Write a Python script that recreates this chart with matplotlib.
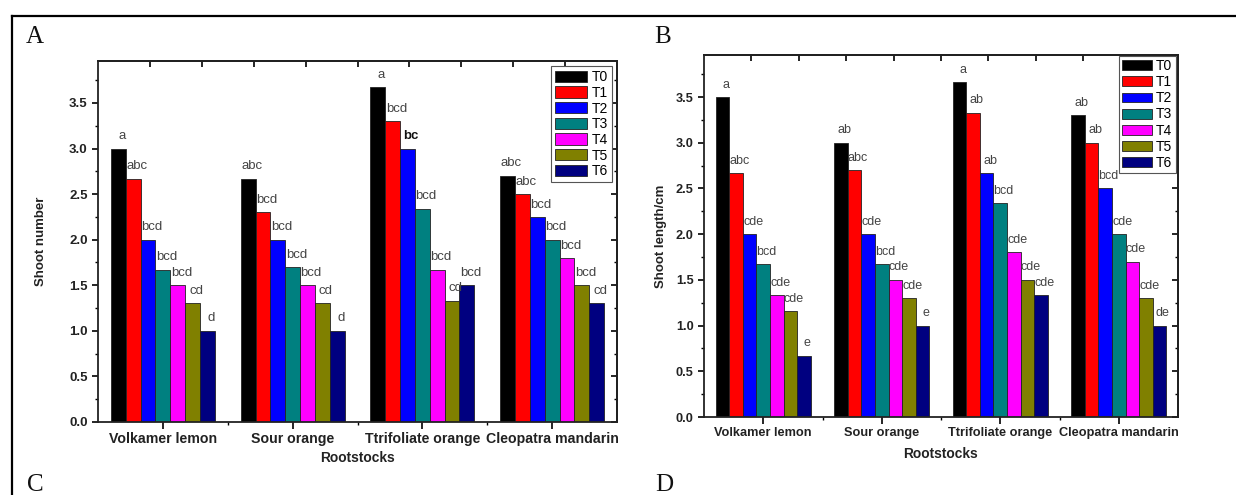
import numpy as np
import matplotlib
matplotlib.use("Agg")
import matplotlib.pyplot as plt
from matplotlib.lines import Line2D
from matplotlib.ticker import MultipleLocator, FixedLocator, NullFormatter

plt.rcParams['font.family'] = ['Liberation Sans', 'DejaVu Sans']

rootstocks = ["Volkamer lemon", "Sour orange", "Ttrifoliate orange", "Cleopatra mandarin"]
treatments = ["T0", "T1", "T2", "T3", "T4", "T5", "T6"]
colors = ["#000000", "#FF0000", "#0000FF", "#008080", "#FF00FF", "#808000", "#000080"]

# Panel A: shoot number, rows = rootstocks, columns = T0..T6
shoot_number = [
    [3.00, 2.67, 2.00, 1.67, 1.50, 1.30, 1.00],
    [2.67, 2.30, 2.00, 1.70, 1.50, 1.30, 1.00],
    [3.67, 3.30, 3.00, 2.34, 1.67, 1.33, 1.50],
    [2.70, 2.50, 2.25, 2.00, 1.80, 1.50, 1.30],
]
letters_a = [
    ["a", "abc", "bcd", "bcd", "bcd", "cd", "d"],
    ["abc", "bcd", "bcd", "bcd", "bcd", "cd", "d"],
    ["a", "bcd", "bc", "bcd", "bcd", "cd", "bcd"],
    ["abc", "abc", "bcd", "bcd", "bcd", "bcd", "cd"],
]
bold_a = [(2, 2)]

# Panel B: shoot length (cm)
shoot_length = [
    [3.50, 2.67, 2.00, 1.67, 1.33, 1.16, 0.67],
    [3.00, 2.70, 2.00, 1.67, 1.50, 1.30, 1.00],
    [3.66, 3.33, 2.67, 2.34, 1.80, 1.50, 1.33],
    [3.30, 3.00, 2.50, 2.00, 1.70, 1.30, 1.00],
]
letters_b = [
    ["a", "abc", "cde", "bcd", "cde", "cde", "e"],
    ["ab", "abc", "cde", "bcd", "cde", "cde", "e"],
    ["a", "ab", "ab", "bcd", "cde", "cde", "cde"],
    ["ab", "ab", "bcd", "cde", "cde", "cde", "de"],
]

W, H = 1236, 495
fig = plt.figure(figsize=(W / 100, H / 100), dpi=100)


def px_axes(l, t, r, b):
    return fig.add_axes([l / W, 1 - b / H, (r - l) / W, (b - t) / H])


def draw_panel(ax, data, letters, ylabel, ylabelpad, bold_cells, legend_anchor, leg_params,
               xtick_fs, ytick_fs, ann_fs, xlabel_fs, xlabel_pad):
    nb = len(treatments)
    w = 0.8 / nb
    x = np.arange(1, len(rootstocks) + 1)
    for j in range(nb):
        vals = [row[j] for row in data]
        pos = x + (j - (nb - 1) / 2) * w
        ax.bar(pos, vals, width=w, color=colors[j], edgecolor="#222222",
               linewidth=0.6, label=treatments[j], zorder=2)
        for i, (p, v) in enumerate(zip(pos, vals)):
            bold = (i, j) in bold_cells
            ax.text(p + 0.25 * w, v + 0.07, letters[i][j], ha="center", va="bottom",
                    fontsize=ann_fs, color="#111111" if bold else "#444444",
                    fontweight="bold" if bold else "normal")
    ax.set_xlim(0.5, 4.5)
    ax.set_ylim(0, 3.96)
    ax.set_xticks(x)
    ax.set_xticklabels(rootstocks, fontsize=xtick_fs, fontweight="bold", color="#222222")
    ax.xaxis.set_minor_locator(FixedLocator([1.5, 2.5, 3.5]))
    ax.yaxis.set_minor_locator(MultipleLocator(0.25))
    ax.set_yticks(np.arange(0, 3.51, 0.5))
    ax.set_yticklabels([f"{v:.1f}" for v in np.arange(0, 3.51, 0.5)],
                       fontsize=ytick_fs, fontweight="bold", color="#222222")
    ax.tick_params(axis="both", which="major", direction="out", length=4, width=1.2)
    ax.tick_params(axis="both", which="minor", direction="out", length=2.5, width=1.0)
    ax.tick_params(axis="x", which="major", length=5, pad=2)
    ax.set_xlabel("Rootstocks", fontsize=xlabel_fs, fontweight="bold", color="#222222",
                  labelpad=xlabel_pad)
    ax.set_ylabel(ylabel, fontsize=9.5, fontweight="bold", color="#222222", labelpad=ylabelpad)
    for s in ax.spines.values():
        s.set_linewidth(1.3)
        s.set_color("#222222")
    top = ax.secondary_xaxis("top")
    top.set_xticks(np.arange(0.9, 4.45, 0.4))
    top.xaxis.set_major_formatter(NullFormatter())
    top.tick_params(direction="in", length=4, width=1.2)
    top.spines["top"].set_linewidth(1.3)
    right = ax.secondary_yaxis("right")
    right.set_yticks(np.arange(0, 3.96, 0.5))
    right.yaxis.set_minor_locator(MultipleLocator(0.25))
    right.yaxis.set_major_formatter(NullFormatter())
    right.tick_params(which="major", direction="in", length=4, width=1.2)
    right.tick_params(which="minor", direction="in", length=2.5, width=1.0)
    right.spines["right"].set_linewidth(1.3)
    leg = ax.legend(loc="upper right", bbox_to_anchor=legend_anchor, fontsize=10,
                    frameon=True, fancybox=False, framealpha=1, edgecolor="#555555",
                    borderaxespad=0, **leg_params)
    leg.get_frame().set_linewidth(0.8)
    leg.set_zorder(5)


axA = px_axes(98, 61, 617, 422)
draw_panel(axA, shoot_number, letters_a, "Shoot number", 16, bold_a, (0.990, 0.986),
           dict(handlelength=2.3, handleheight=0.86, labelspacing=0.12,
                handletextpad=0.3, borderpad=0.3),
           xtick_fs=10.2, ytick_fs=9.5, ann_fs=9.5, xlabel_fs=9.9, xlabel_pad=4)

axB = px_axes(704, 55, 1178, 417)
draw_panel(axB, shoot_length, letters_b, "Shoot length/cm", 6, [], (0.995, 0.998),
           dict(handlelength=2.1, handleheight=0.72, labelspacing=0.15,
                handletextpad=0.3, borderpad=0.25),
           xtick_fs=9.2, ytick_fs=9.2, ann_fs=9.0, xlabel_fs=9.9, xlabel_pad=6)

# panel letters
for lab, (px, py) in {"A": (35, 37), "B": (663, 37), "C": (35, 485), "D": (664, 485)}.items():
    fig.text(px / W, 1 - py / H, lab, ha="center", va="center", fontsize=18,
             family="Liberation Serif", color="#111111")

# outer frame lines
fig.add_artist(Line2D([11.5 / W, 1.0], [1 - 15.7 / H] * 2, transform=fig.transFigure,
                      color="black", linewidth=1.6))
fig.add_artist(Line2D([11.5 / W] * 2, [1 - 15.7 / H, 0.0], transform=fig.transFigure,
                      color="black", linewidth=1.6))

fig.savefig("out.png", dpi=100)
